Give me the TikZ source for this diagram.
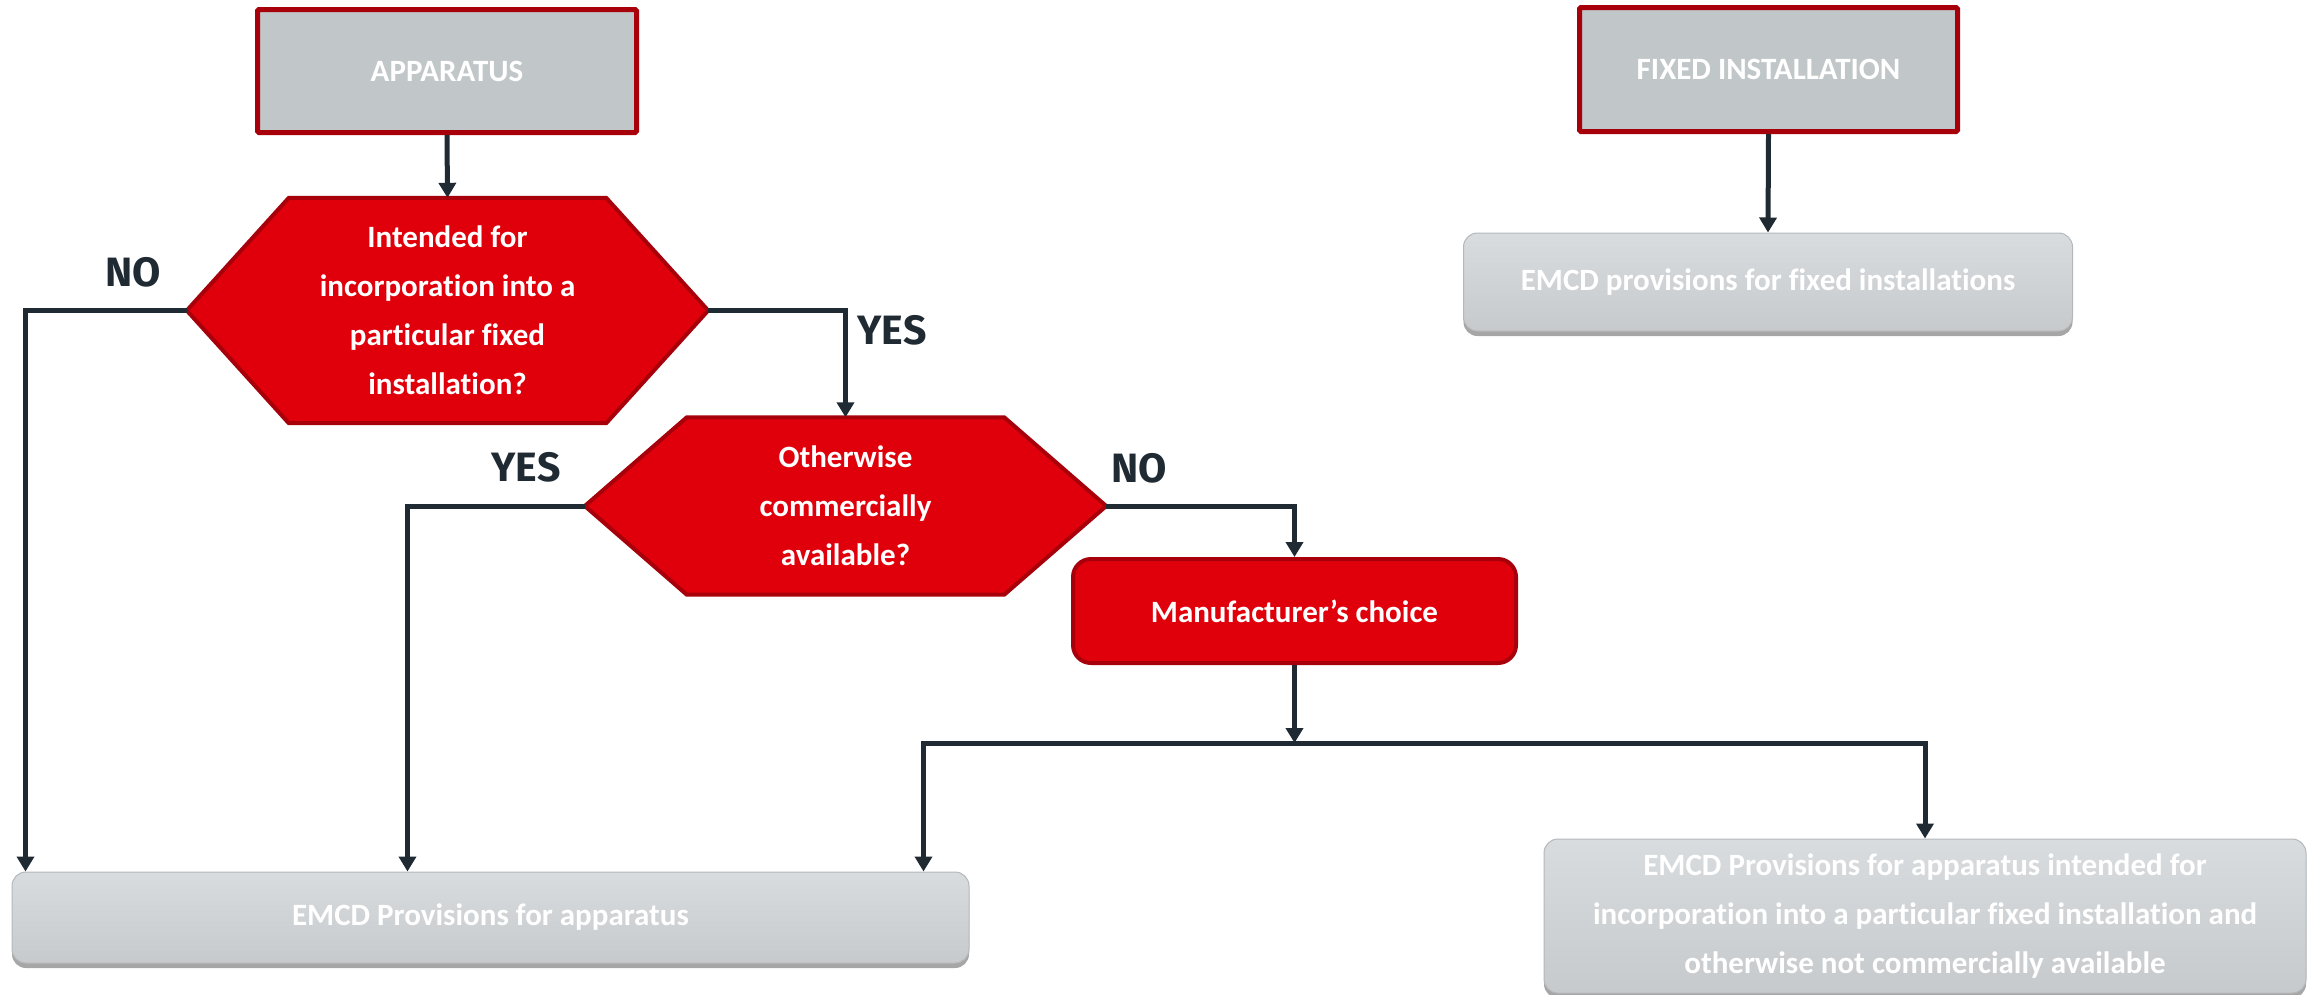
\documentclass[tikz,border=0pt]{standalone}
\usepackage{fontspec}
\setmainfont{Carlito}[Ligatures=CommonOff]
\newfontfamily\labfont{Fira Sans}
\usetikzlibrary{arrows.meta,shadows,calc}
\pgfdeclarelayer{background}
\pgfsetlayers{background,main}
\definecolor{redfill}{HTML}{E0000B}
\definecolor{redline}{HTML}{A8000A}
\definecolor{grayfill}{HTML}{C1C6C8}
\definecolor{ink}{HTML}{1F2A33}
\definecolor{boxtop}{HTML}{D8DCDE}
\definecolor{boxbot}{HTML}{C6CACC}
\definecolor{boxedge}{HTML}{B4B8BA}
\begin{document}
\begin{tikzpicture}[x=1pt,y=-1pt,
  txt/.style={text=white,font=\bfseries\fontsize{31}{49}\selectfont,align=center,inner sep=0pt},
  topbox/.style={txt,draw=redline,line width=5pt,fill=grayfill,rounded corners=1.5pt},
  hexbox/.style={txt},
  hexshape/.style={fill=redfill,draw=redline,line width=4pt,line join=miter},
  manbox/.style={txt,fill=redfill,draw=redline,line width=4pt,rounded corners=18pt},
  resbox/.style={txt,top color=boxtop,bottom color=boxbot,draw=boxedge,line width=1pt,rounded corners=14pt,
    drop shadow={shadow xshift=0pt,shadow yshift=-5pt,opacity=0.35,fill=black}},
  conn/.style={draw=ink,line width=5pt},
  arr/.style={conn,-{Triangle[length=15pt,width=17pt]}},
  lab/.style={text=ink,font=\labfont\bfseries\fontsize{41}{41}\selectfont,inner sep=0pt}
]
\useasboundingbox (0,0) rectangle (2315,994);

% top boxes
\node[topbox,minimum width=379pt,minimum height=123pt] (app) at (447,71) {APPARATUS};
\node[topbox,minimum width=378pt,minimum height=124pt] (fix) at (1768.5,69.5) {FIXED INSTALLATION};

% decisions
\node[hexbox,minimum width=521pt,minimum height=225pt] (h1) at (447.5,310.5)
  {Intended for\\incorporation into a\\particular fixed\\installation?};
\node[hexbox,minimum width=521pt,minimum height=177pt] (h2) at (845.5,506)
  {Otherwise\\commercially\\available?};
\begin{pgfonlayer}{background}
\path[hexshape] (h1.west) -- ([xshift=102pt]h1.north west) -- ([xshift=-102pt]h1.north east)
  -- (h1.east) -- ([xshift=-102pt]h1.south east) -- ([xshift=102pt]h1.south west) -- cycle;
\path[hexshape] (h2.west) -- ([xshift=102pt]h2.north west) -- ([xshift=-102pt]h2.north east)
  -- (h2.east) -- ([xshift=-102pt]h2.south east) -- ([xshift=102pt]h2.south west) -- cycle;
\end{pgfonlayer}

\node[manbox,minimum width=443pt,minimum height=104pt] (man) at (1294.5,611) {Manufacturer’s choice};

% results
\node[resbox,minimum width=609pt,minimum height=98pt] (fixres) at (1768,282) {EMCD provisions for fixed installations};
\node[resbox,minimum width=957pt,minimum height=91pt] (appres) at (490.5,917.5) {EMCD Provisions for apparatus};
\node[resbox,minimum width=762pt,minimum height=154pt] (othres) at (1925,916)
  {EMCD Provisions for apparatus intended for\\incorporation into a particular fixed installation and\\otherwise not commercially available};

% labels
\node[lab] (no1) at (133,272) {NO};
\node[lab] (yes1) at (892,330) {YES};
\node[lab] (yes2) at (526,467) {YES};
\node[lab] (no2) at (1139,468) {NO};

% connectors
\coordinate (jn) at (1294.5,743);
\draw[arr] (app.south) -- (h1.north);
\draw[arr] (fix.south) -- (fixres.north);
\draw[arr] (h1.west) -| ([xshift=14pt]appres.north west);
\draw[arr] (h1.east) -| (h2.north);
\draw[arr] (h2.west) -| ([xshift=396pt]appres.north west);
\draw[arr] (h2.east) -| (man.north);
\draw[arr] (man.south) -- (jn);
\draw[arr] (jn) -| ([xshift=-46pt]appres.north east);
\draw[arr] (jn) -| (othres.north);
\end{tikzpicture}
\end{document}
